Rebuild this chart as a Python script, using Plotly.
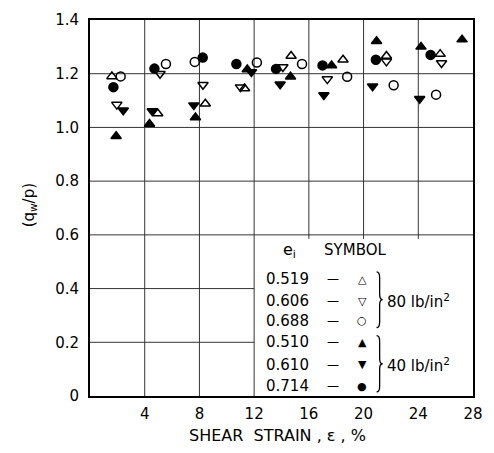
import plotly.graph_objects as go

# ---- data (shear strain %, q_w/p) ----
x_519 = [1.6, 4.95, 8.43, 11.3, 14.7, 18.5, 21.67, 25.6]
y_519 = [1.19, 1.052, 1.088, 1.145, 1.266, 1.252, 1.266, 1.273]
x_606 = [1.96, 5.12, 8.26, 11.0, 14.1, 17.35, 21.67, 25.7]
y_606 = [1.085, 1.20, 1.159, 1.15, 1.225, 1.18, 1.246, 1.24]
x_688 = [2.24, 5.55, 7.66, 12.2, 15.5, 18.8, 22.2, 25.3]
y_688 = [1.19, 1.236, 1.244, 1.242, 1.236, 1.189, 1.157, 1.122]
x_510 = [1.91, 4.35, 7.71, 11.5, 14.66, 17.66, 20.95, 24.2, 27.2]
y_510 = [0.967, 1.013, 1.037, 1.216, 1.189, 1.231, 1.321, 1.30, 1.327]
x_610 = [2.43, 4.55, 7.59, 11.8, 13.9, 17.1, 20.66, 24.1]
y_610 = [1.064, 1.061, 1.083, 1.206, 1.161, 1.121, 1.153, 1.107]
x_714 = [1.71, 4.71, 8.24, 10.7, 13.6, 17.0, 20.9, 24.9]
y_714 = [1.15, 1.219, 1.26, 1.236, 1.218, 1.231, 1.252, 1.27]

x_ticks = [4, 8, 12, 16, 20, 24, 28]
y_ticks = [0, 0.2, 0.4, 0.6, 0.8, 1.0, 1.2, 1.4]
y_ticktext = ["0", "0.2", "0.4", "0.6", "0.8", "1.0", "1.2", "1.4"]

legend_e = ["0.519", "0.606", "0.688", "0.510", "0.610", "0.714"]
legend_sym = ["△", "▽", "○", "▲", "▼", "●"]

FONT = "DejaVu Sans"
fig = go.Figure()

series = [
    (x_519, y_519, "triangle-up-open", 9),
    (x_606, y_606, "triangle-down-open", 9),
    (x_688, y_688, "circle-open", 9),
    (x_510, y_510, "triangle-up", 9),
    (x_610, y_610, "triangle-down", 9),
    (x_714, y_714, "circle", 9),
]
for xs, ys, sym, sz in series:
    fig.add_trace(go.Scatter(
        x=xs, y=ys, mode="markers",
        marker=dict(symbol=sym, size=sz, color="black",
                    line=dict(color="black", width=1.5)),
        showlegend=False, cliponaxis=False))

shapes = []
grid = dict(color="#333", width=1)
for yv in [0.2, 0.4]:
    shapes.append(dict(type="line", xref="x", yref="y", x0=0, x1=12, y0=yv, y1=yv,
                       line=grid, layer="below"))
for yv in [0.6, 0.8, 1.0, 1.2]:
    shapes.append(dict(type="line", xref="x", yref="y", x0=0, x1=28, y0=yv, y1=yv,
                       line=grid, layer="below"))
for xv in [4, 8, 12]:
    shapes.append(dict(type="line", xref="x", yref="y", x0=xv, x1=xv, y0=0, y1=1.4,
                       line=grid, layer="below"))
for xv in [16, 20, 24]:
    shapes.append(dict(type="line", xref="x", yref="y", x0=xv, x1=xv, y0=0.585, y1=1.4,
                       line=grid, layer="below"))


def brace(x0, ytop, ybot, w=0.45):
    ymid = (ytop + ybot) / 2
    a = w / 2
    b = 0.02
    return (f"M {x0},{ytop} Q {x0+a},{ytop} {x0+a},{ytop-b} "
            f"L {x0+a},{ymid+b} Q {x0+a},{ymid} {x0+w},{ymid} "
            f"Q {x0+a},{ymid} {x0+a},{ymid-b} "
            f"L {x0+a},{ybot+b} Q {x0+a},{ybot} {x0},{ybot}")


shapes.append(dict(type="path", xref="x", yref="y", path=brace(20.95, 0.462, 0.255),
                   line=dict(color="black", width=1.3)))
shapes.append(dict(type="path", xref="x", yref="y", path=brace(20.95, 0.225, 0.015),
                   line=dict(color="black", width=1.3)))

ann = []
tf = dict(family=FONT, size=15, color="black")
ann.append(dict(x=14.6, y=0.54, xref="x", yref="y", text="e<sub>i</sub>", showarrow=False,
                font=dict(family=FONT, size=16, color="black")))
ann.append(dict(x=19.4, y=0.545, xref="x", yref="y", text="SYMBOL", showarrow=False,
                font=dict(family=FONT, size=15, color="black")))
row_y = [0.434, 0.353, 0.28, 0.201, 0.116, 0.037]
for e, s, yy in zip(legend_e, legend_sym, row_y):
    ann.append(dict(x=14.46, y=yy, xref="x", yref="y", text=e, showarrow=False, font=tf))
    ann.append(dict(x=17.8, y=yy, xref="x", yref="y", text="—", showarrow=False,
                    font=dict(family=FONT, size=12, color="black")))
    ann.append(dict(x=19.9, y=yy, xref="x", yref="y", text=s, showarrow=False,
                    font=dict(family=FONT, size=11, color="black")))
ann.append(dict(x=21.6, y=0.353, xref="x", yref="y", xanchor="left",
                text="80 lb/in<sup>2</sup>", showarrow=False, font=tf))
ann.append(dict(x=21.6, y=0.116, xref="x", yref="y", xanchor="left",
                text="40 lb/in<sup>2</sup>", showarrow=False, font=tf))

# axis titles (paper coords relative to plot area: left 90, width 388, bottom 396, height 385)
ann.append(dict(x=(280 - 90) / 388, y=(396 - 436) / 385, xref="paper", yref="paper",
                xanchor="center", yanchor="middle",
                text="SHEAR  STRAIN , ε , %", showarrow=False,
                font=dict(family=FONT, size=16, color="black")))
ann.append(dict(x=(29 - 90) / 388, y=(396 - 201) / 385, xref="paper", yref="paper",
                xanchor="center", yanchor="middle",
                text="(q<sub>w</sub>/p)", textangle=-90, showarrow=False,
                font=dict(family=FONT, size=15, color="black")))

fig.update_layout(
    width=494, height=453,
    margin=dict(l=90, r=16, t=11, b=57),
    paper_bgcolor="white", plot_bgcolor="white",
    shapes=shapes, annotations=ann,
    font=dict(family=FONT, size=14, color="black"),
)
fig.update_xaxes(range=[0, 28], tickvals=x_ticks, ticktext=[str(v) for v in x_ticks],
                 showgrid=False, zeroline=False, showline=True, linewidth=2,
                 linecolor="black", mirror=True, ticks="", ticklabelstandoff=3,
                 tickfont=dict(family=FONT, size=15, color="black"))
fig.update_yaxes(range=[0, 1.4], tickvals=y_ticks, ticktext=y_ticktext,
                 showgrid=False, zeroline=False, showline=True, linewidth=2,
                 linecolor="black", mirror=True, ticks="", ticklabelstandoff=6,
                 tickfont=dict(family=FONT, size=15, color="black"))

fig.write_html("out.html")
